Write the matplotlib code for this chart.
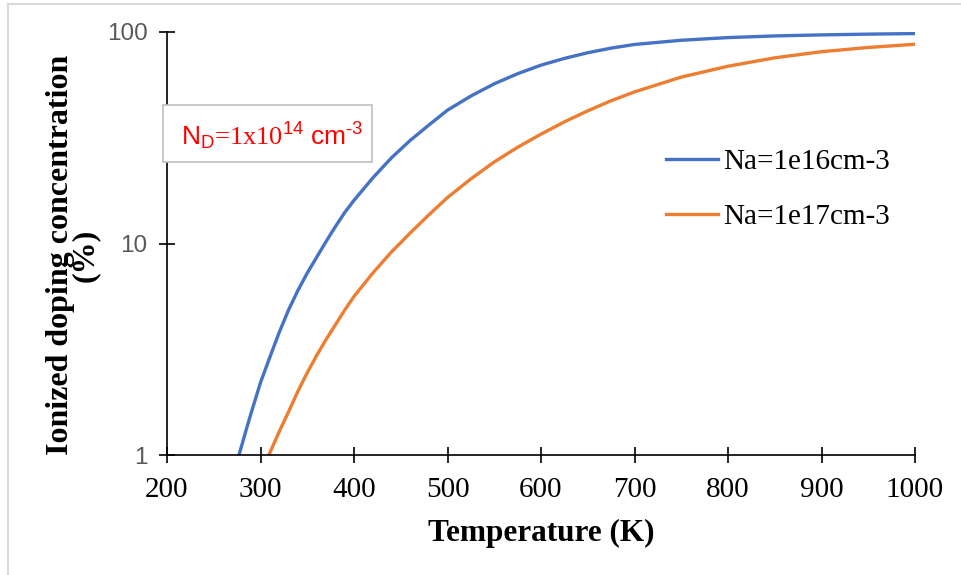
import numpy as np
import matplotlib.pyplot as plt
from matplotlib.lines import Line2D
from matplotlib.patches import Rectangle
from matplotlib.ticker import FixedLocator, NullLocator

plt.rcParams['mathtext.fontset'] = 'custom'
plt.rcParams['mathtext.rm'] = 'Liberation Serif'
plt.rcParams['mathtext.sf'] = 'Liberation Sans'

# values (Na = 1e16 cm-3)
T_16 = [277, 285, 290, 300, 310, 320, 330, 340, 350, 360, 370, 380, 390, 400, 420, 440,
        460, 480, 500, 525, 550, 575, 600, 625, 650, 675, 700, 750, 800, 850, 900, 950, 1000]
ion_16 = [1.0, 1.33, 1.58, 2.2, 2.9, 3.8, 4.85, 6.0, 7.25, 8.6, 10.2, 12.0, 14.0, 16.0, 20.4, 25.4,
          30.7, 36.3, 42.7, 49.8, 56.9, 63.5, 69.7, 75.0, 79.8, 83.9, 87.3, 91.4, 94.1, 95.8, 96.9, 97.7, 98.3]

# values (Na = 1e17 cm-3)
T_17 = [309, 320, 330, 340, 350, 360, 370, 380, 390, 400, 420, 440, 450, 460, 480, 500,
        525, 550, 575, 600, 625, 650, 675, 700, 750, 800, 850, 900, 950, 1000]
ion_17 = [1.0, 1.29, 1.6, 2.0, 2.45, 2.95, 3.51, 4.12, 4.84, 5.62, 7.24, 9.12, 10.1, 11.2, 13.65, 16.5,
          20.2, 24.3, 28.5, 32.9, 37.6, 42.4, 47.3, 52.1, 61.2, 68.9, 75.5, 80.7, 84.5, 87.5]

labels = ['Na=1e16cm-3', 'Na=1e17cm-3']
colors = ['#4472C4', '#ED7D31']

serif = 'Liberation Serif'

fig = plt.figure(figsize=(9.61, 5.75), dpi=100)
ax = fig.add_axes([167/961, 1 - 455/575, 748/961, 423/575])

ax.plot(T_16, ion_16, color=colors[0], lw=2.4, label=labels[0])
ax.plot(T_17, ion_17, color=colors[1], lw=2.4, label=labels[1])

ax.set_yscale('log')
ax.set_xlim(200, 1000)
ax.set_ylim(1, 100)
ax.yaxis.set_major_locator(FixedLocator([1, 10, 100]))
ax.yaxis.set_minor_locator(NullLocator())
ax.set_yticklabels(['1', '10', '100'], fontsize=17.5, color='#595959', family='Liberation Sans')
ax.set_xticks(np.arange(200, 1001, 100))
ax.set_xticklabels([str(v) for v in range(200, 1001, 100)], fontsize=21, family=serif)

for s in ['top', 'right']:
    ax.spines[s].set_visible(False)
for s in ['left', 'bottom']:
    ax.spines[s].set_linewidth(1.2)
ax.tick_params(axis='both', direction='inout', length=11, width=1.2)
ax.tick_params(axis='x', pad=10)
ax.tick_params(axis='y', pad=8.5)
ax.patch.set_alpha(0)

fig.text(541/961, 1 - 533/575, 'Temperature (K)', ha='center', va='center',
         fontsize=22.5, fontweight='bold', family=serif)
fig.text(73/961, 1 - 255/575, 'Ionized doping concentration\n(%)', ha='center', va='center',
         rotation=90, fontsize=23, fontweight='bold', family=serif, multialignment='center',
         linespacing=0.78)

leg = ax.legend(loc='upper left', bbox_to_anchor=(0.632, 0.787), frameon=False,
                prop={'family': serif, 'size': 21}, handlelength=1.8, handletextpad=0.15,
                labelspacing=1.0)

# annotation box
fig.patches.append(Rectangle((163/961, 1 - 162/575), 209/961, 57/575, transform=fig.transFigure,
                             facecolor='white', edgecolor='#BFBFBF', lw=1.2, zorder=5))
fig.text(272/961, 1 - 136/575, r'$\mathsf{N_D}$=1x10$^{\mathsf{14}}$ $\mathsf{cm}^{\mathsf{\text{-}3}}$',
         ha='center', va='center', color='red', fontsize=19, family=serif, zorder=6)

# chart border
fig.add_artist(Line2D([8/961, 8/961], [0, 1 - 4/575], color='#D9D9D9', lw=1.5))
fig.add_artist(Line2D([8/961, 1], [1 - 4/575, 1 - 4/575], color='#D9D9D9', lw=1.5))

fig.savefig('out.png', dpi=100)
